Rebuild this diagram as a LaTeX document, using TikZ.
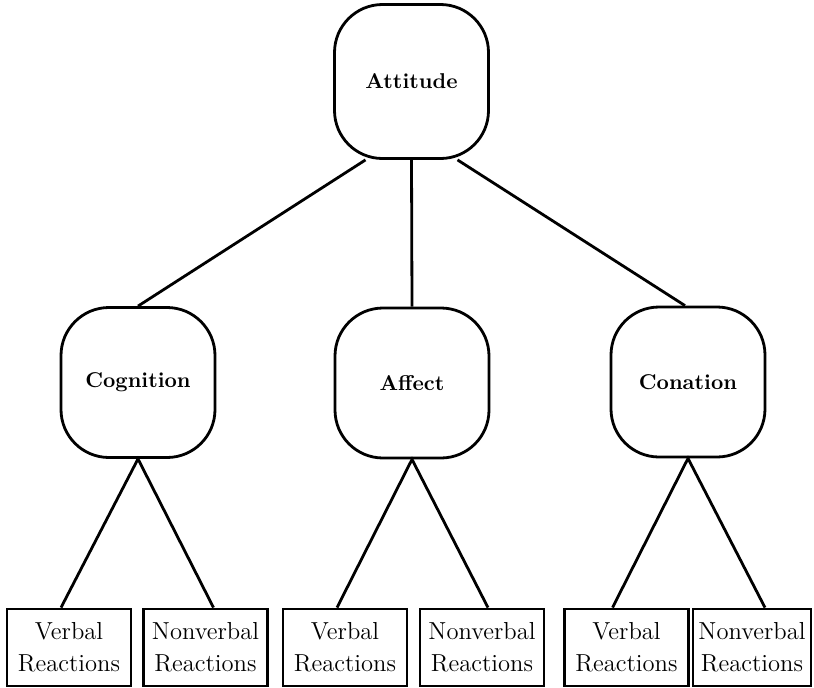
\documentclass[tikz,border=0pt]{standalone}
\usepackage{tikz}
\usetikzlibrary{positioning}

\begin{document}
\begin{tikzpicture}[x=0.5pt,y=-0.5pt,line width=1.4pt]
  \tikzstyle{concept}=[draw,rounded corners=24pt,align=center,minimum width=77pt,minimum height=75pt,font=\fontsize{10.7}{12}\selectfont\bfseries]
  \tikzstyle{reaction}=[draw,align=center,inner sep=1pt,minimum width=62pt,minimum height=38.5pt,font=\fontsize{12.3}{16}\selectfont]
  \useasboundingbox (0,0) rectangle (814,687);
  \node[concept,minimum height=77pt] (attitude) at (411.5,81.5) {Attitude};
  \node[concept] (cognition) at (138,382.5) {Cognition};
  \node[concept] (affect) at (412,383) {Affect};
  \node[concept] (conation) at (688,382) {Conation};
  \coordinate (attleft) at ([xshift=-23pt]attitude.south);
  \coordinate (attright) at ([xshift=23pt]attitude.south);
  \draw (attleft) -- (cognition.north);
  \draw (attitude.south) -- (affect.north);
  \draw (attright) -- ([xshift=-1.5pt]conation.north);
  % reactions of each component
  \node[reaction] (cogverbal) at (69,647.5) {Verbal\\Reactions};
  \node[reaction] (cognonverbal) at (205.5,647.5) {Nonverbal\\Reactions};
  \node[reaction] (affverbal) at (345,647.5) {Verbal\\Reactions};
  \node[reaction] (affnonverbal) at (482,647.5) {Nonverbal\\Reactions};
  \node[reaction] (converbal) at (626.5,647.5) {Verbal\\Reactions};
  \node[reaction,minimum width=59pt] (connonverbal) at (752,647.5) {Nonverbal\\Reactions};
  \draw ([xshift=-4pt]cogverbal.north) -- (cognition.south) -- ([xshift=4pt]cognonverbal.north);
  \draw ([xshift=-4pt]affverbal.north) -- (affect.south) -- ([xshift=3pt]affnonverbal.north);
  \draw ([xshift=-7pt]converbal.north) -- (conation.south) -- ([xshift=6.5pt]connonverbal.north);
\end{tikzpicture}
\end{document}
